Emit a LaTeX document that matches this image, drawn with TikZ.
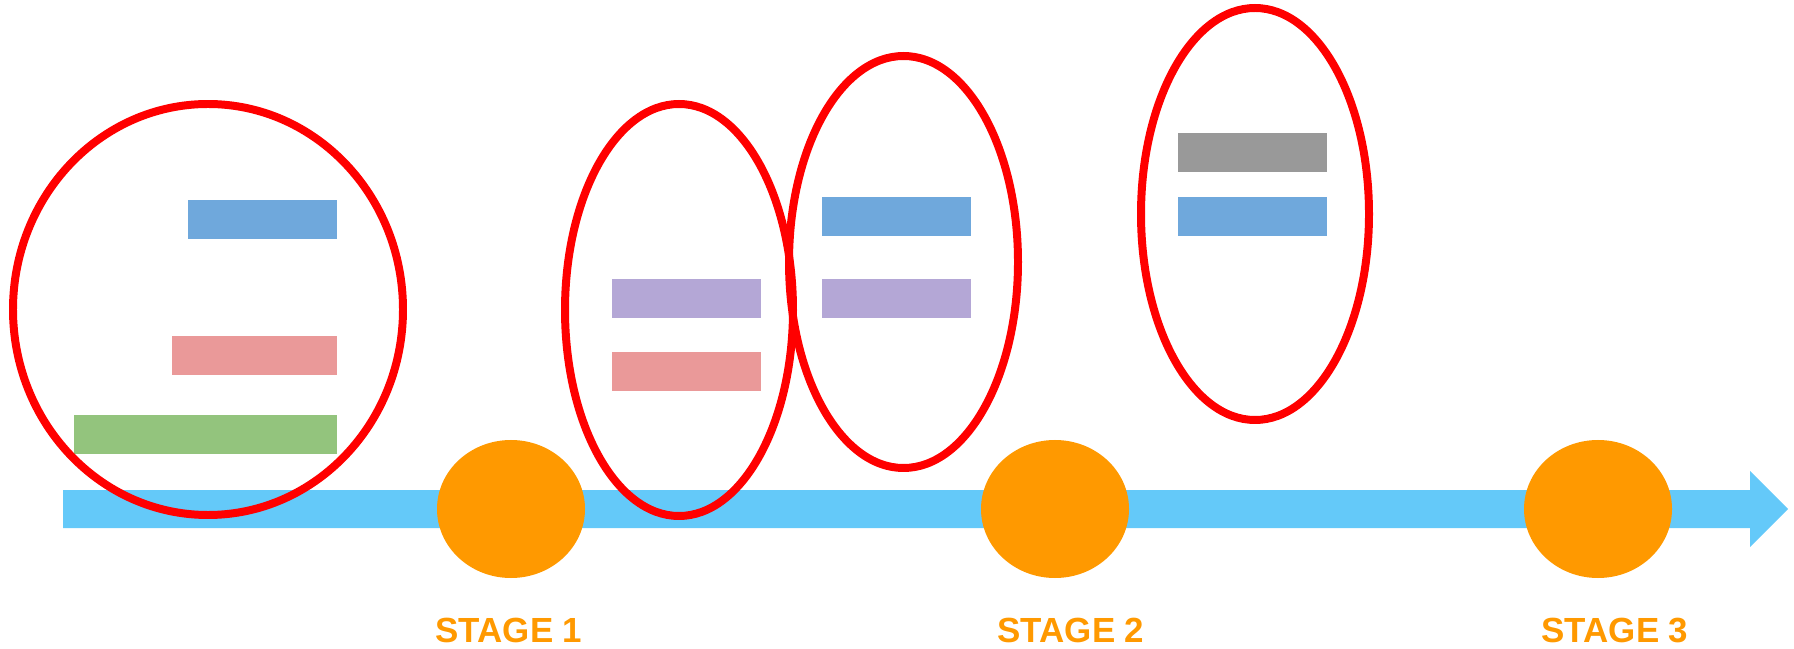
\documentclass[tikz,border=0pt]{standalone}
\usepackage{fontspec}
\setmainfont{Liberation Sans}
\usepackage{tikz}

\definecolor{timeline}{HTML}{64C9F9}
\definecolor{stagedot}{HTML}{FF9900}
\definecolor{barblue}{HTML}{6FA8DC}
\definecolor{barred}{HTML}{EA9999}
\definecolor{bargreen}{HTML}{93C47D}
\definecolor{barpurple}{HTML}{B4A7D6}
\definecolor{bargray}{HTML}{999999}

\begin{document}
\begin{tikzpicture}[x=0.01cm,y=-0.01cm,
  ring/.style={draw=red,line width=2.27pt},
  stagetext/.style={text=stagedot,inner sep=0pt,font=\fontsize{9.93pt}{12pt}\selectfont\bfseries}]
\useasboundingbox (0,0) rectangle (1794,649);

\fill[timeline] (63,490) -- (1750,490) -- (1750,471) -- (1788,509)
  -- (1750,547) -- (1750,528) -- (63,528) -- cycle;

\fill[stagedot] (511,509) ellipse [x radius=74, y radius=69];
\fill[stagedot] (1055,509) ellipse [x radius=74, y radius=69];
\fill[stagedot] (1598,509) ellipse [x radius=74, y radius=69];

\fill[barblue] (188,200) rectangle (337,239);
\fill[barred] (172,336) rectangle (337,375);
\fill[bargreen] (74,415) rectangle (337,454);

\fill[barpurple] (612,279) rectangle (761,318);
\fill[barred] (612,352) rectangle (761,391);

\fill[barblue] (822,197) rectangle (971,236);
\fill[barpurple] (822,279) rectangle (971,318);

\fill[bargray] (1178,133) rectangle (1327,172);
\fill[barblue] (1178,197) rectangle (1327,236);

\draw[ring] (208,309.5) ellipse [x radius=195, y radius=205.5];
\draw[ring] (679,310) ellipse [x radius=114, y radius=206];
\draw[ring] (903.5,262) ellipse [x radius=114.5, y radius=206];
\draw[ring] (1255,214) ellipse [x radius=114, y radius=206];

\node[stagetext] (stage1) at (509,630.5) {STAGE 1};
\node[stagetext] (stage2) at (1071,630.5) {STAGE 2};
\node[stagetext] (stage3) at (1615,630.5) {STAGE 3};
\end{tikzpicture}
\end{document}
